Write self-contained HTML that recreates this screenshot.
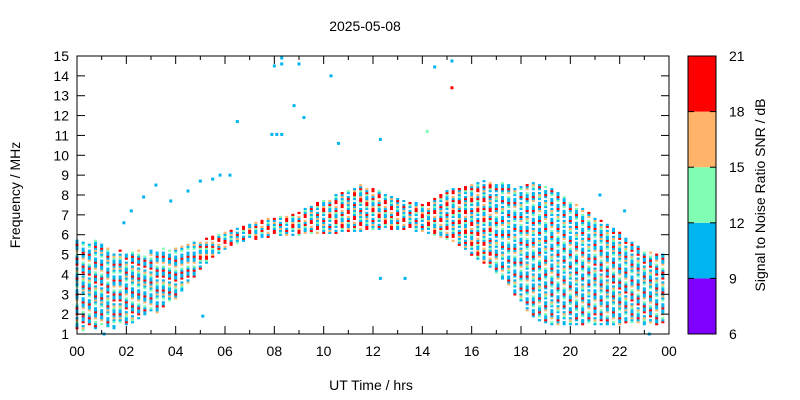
<!DOCTYPE html>
<html><head><meta charset="utf-8"><style>
body{margin:0;background:#fff}
svg{display:block}
text{font-family:"Liberation Sans",sans-serif;font-size:14px;fill:#000}
</style></head><body>
<svg id="c" width="800" height="400" xmlns="http://www.w3.org/2000/svg"></svg>
<script>
const xTickLabels=["00","02","04","06","08","10","12","14","16","18","20","22","00"];
const yTickLabels=[1,2,3,4,5,6,7,8,9,10,11,12,13,14,15];
const cbTickLabels=[6,9,12,15,18,21];
const lowFreq=[1.3,1.2,1.4,1.3,1.5,1.4,1.3,1.6,1.5,1.6,1.8,2.0,2.2,2.1,2.4,2.6,2.8,3.2,3.6,3.9,4.3,4.6,4.9,5.1,5.3,5.5,5.6,5.7,5.8,5.8,5.9,5.9,6.0,6.0,6.0,6.0,6.0,6.1,6.1,6.1,6.1,6.1,6.1,6.2,6.2,6.2,6.2,6.3,6.3,6.3,6.3,6.3,6.3,6.3,6.3,6.2,6.2,6.1,6.0,5.9,5.8,5.7,5.5,5.3,5.0,4.8,4.6,4.4,4.1,3.8,3.4,3.0,2.6,2.2,1.9,1.7,1.6,1.5,1.5,1.5,1.5,1.5,1.5,1.5,1.5,1.5,1.5,1.5,1.5,1.6,1.5,1.6,1.5,1.6,1.5,1.6];
const highFreq=[5.8,5.6,5.5,5.7,5.5,5.3,5.1,5.2,5.0,5.1,5.2,5.0,5.2,5.1,5.3,5.2,5.3,5.4,5.5,5.6,5.7,5.8,5.9,6.0,6.1,6.2,6.3,6.4,6.5,6.6,6.7,6.8,6.8,6.9,6.9,7.0,7.1,7.3,7.4,7.6,7.7,7.8,8.0,8.1,8.2,8.3,8.5,8.4,8.3,8.2,8.0,7.9,7.8,7.7,7.6,7.6,7.5,7.6,7.8,8.0,8.2,8.3,8.3,8.4,8.5,8.6,8.7,8.6,8.5,8.6,8.5,8.4,8.4,8.5,8.6,8.5,8.4,8.3,8.1,7.9,7.7,7.5,7.3,7.1,6.9,6.7,6.5,6.3,6.1,5.8,5.6,5.4,5.2,5.1,5.0,5.0];
const nightPattern="rbbgob.rbbrbg.obbrbb.gbob";
const dayPattern="robbgrbo.rrbgbobrb.bgr";
const duskPattern="bbg.obrbb.bgob.brbb.gbr";
const outliers=[[8.0,14.5,"b"],[8.3,14.9,"b"],[8.3,14.6,"b"],[9.0,14.6,"b"],[10.3,14.0,"b"],[14.5,14.45,"b"],[15.2,14.75,"b"],[15.2,13.4,"r"],[8.8,12.5,"b"],[9.2,11.9,"b"],[6.5,11.7,"b"],[7.9,11.05,"b"],[8.1,11.05,"b"],[8.3,11.05,"b"],[14.2,11.2,"g"],[12.3,10.8,"b"],[10.6,10.6,"b"],[5.0,8.7,"b"],[5.5,8.8,"b"],[5.8,9.0,"b"],[6.2,9.0,"b"],[3.2,8.5,"b"],[2.7,7.9,"b"],[3.8,7.7,"b"],[4.5,8.2,"b"],[1.9,6.6,"b"],[2.2,7.2,"b"],[21.2,8.0,"b"],[22.2,7.2,"b"],[12.3,3.8,"b"],[13.3,3.8,"b"],[5.1,1.9,"b"],[1.1,1.0,"b"],[0.0,3.5,"b"],[23.2,1.0,"b"]];
const colors={b:"#00b4f0",g:"#80ffb4",o:"#ffb469",r:"#ff0000"};
const cbColors=["#8000ff","#00b4f0","#80ffb4","#ffb469","#ff0000"];
const X0=77,X1=669,Y0=334,Y1=56;
const xs=h=>X0+(X1-X0)*h/24;
const ys=f=>Y0-(Y0-Y1)*(f-1)/14;
const svg=document.getElementById('c');const NS="http://www.w3.org/2000/svg";
function mk(t,a,p){const e=document.createElementNS(NS,t);for(const k in a)e.setAttribute(k,a[k]);(p||svg).appendChild(e);return e;}
const bg=mk('rect',{x:X0,y:Y1,width:X1-X0,height:Y0-Y1,fill:'#fff',stroke:'#000','stroke-width':1});


const g=mk('g',{});


for(let i=0;i<lowFreq.length;i++){
  const h=i*0.25;const pat=(h<5||h>=21)?nightPattern:(h>=17?duskPattern:dayPattern);
  let k=i*3;
  for(let f=lowFreq[i];f<=highFreq[i]+1e-6;f+=0.1){
    const c=pat[k%pat.length];k++;
    if(c==='.')continue;
    const r=mk('rect',{x:xs(h)-1.5,y:ys(f)-1,width:3,height:2.2,fill:colors[c]},g);
    
    
  }
}
outliers.forEach(o=>{const r=mk('rect',{x:xs(o[0])-1.5,y:ys(o[1])-1.5,width:3,height:3,fill:colors[o[2]]},g);

});
mk('rect',{x:X0,y:Y1,width:X1-X0,height:Y0-Y1,fill:'none',stroke:'#000','stroke-width':1});
xTickLabels.forEach((l,i)=>{const x=xs(i*2);
mk('line',{x1:x,x2:x,y1:Y0,y2:Y0-8,stroke:'#000'});mk('line',{x1:x,x2:x,y1:Y1,y2:Y1+8,stroke:'#000'});
if(i<12){const xm=xs(i*2+1);mk('line',{x1:xm,x2:xm,y1:Y0,y2:Y0-4,stroke:'#000'});mk('line',{x1:xm,x2:xm,y1:Y1,y2:Y1+4,stroke:'#000'});}
const t=mk('text',{x:x,y:Y0+22,'text-anchor':'middle'});t.textContent=l;

});
yTickLabels.forEach(v=>{const y=ys(v);
mk('line',{x1:X0,x2:X0+8,y1:y,y2:y,stroke:'#000'});mk('line',{x1:X1,x2:X1-8,y1:y,y2:y,stroke:'#000'});
const t=mk('text',{x:X0-8,y:y+5,'text-anchor':'end'});t.textContent=v;

});
const CX=688,CW=28;
const cs=v=>Y0-(Y0-Y1)*(v-6)/15;
cbColors.forEach((c,i)=>{const r=mk('rect',{x:CX,y:cs(6+3*(i+1)),width:CW,height:cs(6)-cs(9),fill:c});

});
mk('rect',{x:CX,y:Y1,width:CW,height:Y0-Y1,fill:'none',stroke:'#000'});
cbTickLabels.forEach(v=>{const y=cs(v);mk('line',{x1:CX,x2:CX+6,y1:y,y2:y,stroke:'#000'});mk('line',{x1:CX+CW,x2:CX+CW-6,y1:y,y2:y,stroke:'#000'});
const t=mk('text',{x:CX+CW+13,y:y+5});t.textContent=v;

});
function lab(txt,a,name){const t=mk('text',a);t.textContent=txt;}
lab('2025-05-08',{x:365,y:31,'text-anchor':'middle'},'chart-title');
lab('UT Time / hrs',{x:371,y:390,'text-anchor':'middle'},'x-axis-title');
lab('Frequency / MHz',{x:20,y:195,'text-anchor':'middle',transform:'rotate(-90 20 195)'},'y-axis-title');
lab('Signal to Noise Ratio SNR / dB',{x:765,y:195,'text-anchor':'middle',transform:'rotate(-90 765 195)'},'colorbar-title');
</script>
</body></html>
